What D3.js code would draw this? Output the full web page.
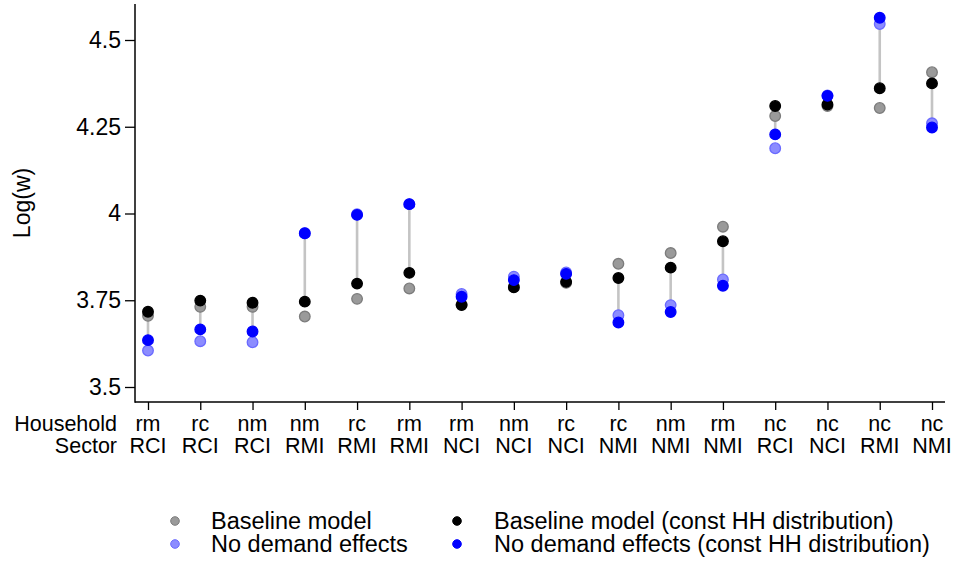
<!DOCTYPE html>
<html>
<head>
<meta charset="utf-8">
<script src="https://cdn.jsdelivr.net/npm/d3@7"></script>
<style>
  html, body { margin: 0; padding: 0; background: #fff; }
  svg { display: block; font-family: "Liberation Sans", Arial, Helvetica, sans-serif; }
</style>
</head>
<body>
<svg id="chart" width="954" height="572"></svg>
<script>
// ---- Data ----
const household = ["rm","rc","nm","nm","rc","rm","rm","nm","rc","rc","nm","rm","nc","nc","nc","nc"];
const sector    = ["RCI","RCI","RCI","RMI","RMI","RMI","NCI","NCI","NCI","NMI","NMI","NMI","RCI","NCI","RMI","NMI"];
const baseline      = [3.705,3.731,3.731,3.703,3.754,3.784,3.738,3.790,3.800,3.855,3.886,3.962,4.281,4.310,4.304,4.407];
const noDemand      = [3.605,3.632,3.629,3.943,3.998,4.027,3.768,3.818,3.830,3.707,3.736,3.810,4.188,4.340,4.546,4.260];
const baselineConst = [3.717,3.749,3.743,3.746,3.798,3.829,3.736,3.787,3.803,3.814,3.844,3.920,4.310,4.314,4.361,4.375];
const noDemandConst = [3.635,3.666,3.660,3.943,3.996,4.027,3.760,3.808,3.826,3.686,3.716,3.792,4.228,4.339,4.564,4.248];
const yTicks = [3.5, 3.75, 4, 4.25, 4.5];
const yTickLabels = ["3.5", "3.75", "4", "4.25", "4.5"];
const legendLabels = ["Baseline model", "No demand effects", "Baseline model (const HH distribution)", "No demand effects (const HH distribution)"];

// ---- Layout ----
const svg = d3.select("#chart");
const idx = d3.range(household.length);
const x = d3.scalePoint().domain(idx).range([148, 932]);
const y = d3.scaleLinear().domain([3.5, 4.5]).range([387, 40]);
const axisLeftX = 135, axisBottomY = 402;

const styles = {
  baseline:      { fill: "#9a9a9a", stroke: "#7c7c7c" },
  noDemand:      { fill: "#8c8cff", stroke: "#6a6aff" },
  baselineConst: { fill: "#000000", stroke: "#000000" },
  noDemandConst: { fill: "#0000ff", stroke: "#0000ff" }
};

// spikes between const-HH series
svg.append("g").selectAll("line").data(idx).join("line")
  .attr("x1", d => x(d)).attr("x2", d => x(d))
  .attr("y1", d => y(baselineConst[d])).attr("y2", d => y(noDemandConst[d]))
  .attr("stroke", "#c4c4c4").attr("stroke-width", 2.6);

function drawSeries(vals, st) {
  svg.append("g").selectAll("circle").data(idx).join("circle")
    .attr("cx", d => x(d)).attr("cy", d => y(vals[d]))
    .attr("r", 5.3)
    .attr("fill", st.fill).attr("stroke", st.stroke).attr("stroke-width", 1.3);
}
drawSeries(baseline, styles.baseline);
drawSeries(noDemand, styles.noDemand);
drawSeries(baselineConst, styles.baselineConst);
drawSeries(noDemandConst, styles.noDemandConst);

// Y axis
const yAxis = d3.axisLeft(y).tickValues(yTicks).tickFormat((d, i) => yTickLabels[i]).tickSize(10).tickPadding(4);
const gy = svg.append("g").attr("transform", `translate(${axisLeftX},0)`).call(yAxis);
gy.select(".domain").remove();
gy.selectAll(".tick line").attr("stroke", "#000").attr("stroke-width", 1.3);
gy.selectAll(".tick text").attr("font-size", 23).attr("fill", "#000")
  .attr("font-family", "Liberation Sans, Arial, sans-serif");

// X axis
const xAxis = d3.axisBottom(x).tickFormat(() => "").tickSize(8);
const gx = svg.append("g").attr("transform", `translate(0,${axisBottomY})`).call(xAxis);
gx.select(".domain").remove();
gx.selectAll(".tick line").attr("stroke", "#000").attr("stroke-width", 1.3);

// axis lines
svg.append("line").attr("x1", axisLeftX).attr("x2", axisLeftX).attr("y1", 4).attr("y2", axisBottomY + 0.7)
  .attr("stroke", "#000").attr("stroke-width", 1.5);
svg.append("line").attr("x1", axisLeftX).attr("x2", 945).attr("y1", axisBottomY).attr("y2", axisBottomY)
  .attr("stroke", "#000").attr("stroke-width", 1.5);

// category labels
const catG = svg.append("g").attr("font-size", 21.5).attr("fill", "#000").attr("text-anchor", "middle");
catG.selectAll("text.hh").data(idx).join("text").attr("class", "hh")
  .attr("x", d => x(d)).attr("y", 431).text(d => household[d]);
catG.selectAll("text.sec").data(idx).join("text").attr("class", "sec")
  .attr("x", d => x(d)).attr("y", 453).text(d => sector[d]);
catG.append("text").attr("x", 117).attr("y", 431).attr("text-anchor", "end").text("Household");
catG.append("text").attr("x", 117).attr("y", 453).attr("text-anchor", "end").text("Sector");

// y title
svg.append("text").attr("transform", "translate(30,203) rotate(-90)")
  .attr("text-anchor", "middle").attr("font-size", 23).text("Log(w)");

// legend
const legendItems = [
  { label: legendLabels[0], st: styles.baseline, mx: 175, tx: 211, ty: 529 },
  { label: legendLabels[1], st: styles.noDemand, mx: 175, tx: 211, ty: 552 },
  { label: legendLabels[2], st: styles.baselineConst, mx: 457, tx: 494, ty: 529 },
  { label: legendLabels[3], st: styles.noDemandConst, mx: 457, tx: 494, ty: 552 }
];
const lg = svg.append("g");
legendItems.forEach(it => {
  lg.append("circle").attr("cx", it.mx).attr("cy", it.ty - 8).attr("r", 4.3)
    .attr("fill", it.st.fill).attr("stroke", it.st.stroke).attr("stroke-width", 1);
  lg.append("text").attr("x", it.tx).attr("y", it.ty).attr("font-size", 23.5).text(it.label);
});
</script>
</body>
</html>
